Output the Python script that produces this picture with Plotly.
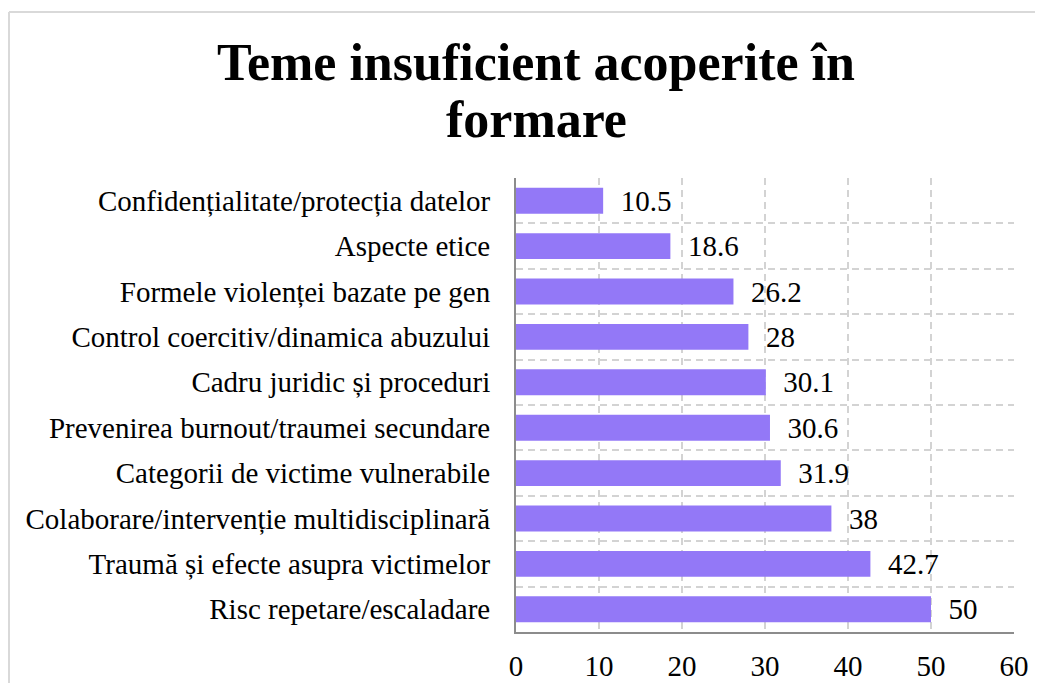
import plotly.graph_objects as go

BAR = "#9378F7"
GRID = "#d3d3d3"
AXIS = "#8c8c8c"
FONT = "Liberation Serif"

teme = [
    "Confidențialitate/protecția datelor",
    "Aspecte etice",
    "Formele violenței bazate pe gen",
    "Control coercitiv/dinamica abuzului",
    "Cadru juridic și proceduri",
    "Prevenirea burnout/traumei secundare",
    "Categorii de victime vulnerabile",
    "Colaborare/intervenție multidisciplinară",
    "Traumă și efecte asupra victimelor",
    "Risc repetare/escaladare",
]
procente = [10.5, 18.6, 26.2, 28, 30.1, 30.6, 31.9, 38, 42.7, 50]
pozitii = list(range(len(teme)))
x_ticks = [0, 10, 20, 30, 40, 50, 60]
titlu = ["Teme insuficient acoperite în", "formare"]

# pixel -> paper helpers (plot area 516..1014 x, 178..632 y on the page)
def px_x(p):
    return (p - 516) / 498

def px_y(p):
    return (632 - p) / 454

fig = go.Figure(go.Bar(
    x=procente, y=pozitii, orientation="h",
    marker=dict(color=BAR, line=dict(width=0)),
    text=[f"{v:g}" for v in procente],
    texttemplate="\u00a0\u00a0%{text}",
    textposition="outside", cliponaxis=False, constraintext="none",
    textfont=dict(family=FONT, size=29, color="black"),
))

fig.update_layout(
    width=1035, height=675,
    paper_bgcolor="white", plot_bgcolor="white",
    margin=dict(l=508, r=29, t=170, b=51, autoexpand=False),
    bargap=0.43, showlegend=False,
    font=dict(family=FONT, size=29, color="black"),
    xaxis=dict(range=[0, 60], tickvals=x_ticks, showgrid=True,
               gridcolor=GRID, griddash="7px,5px", gridwidth=2,
               showline=True, linecolor=AXIS, linewidth=2,
               ticks="", ticklabelstandoff=7, zeroline=False,
               automargin=False, tickfont=dict(family=FONT, size=29)),
    yaxis=dict(range=[9.5, -0.5], tickvals=pozitii, ticktext=teme,
               showgrid=False, showline=True, linecolor=AXIS, linewidth=2,
               ticks="", ticklabelstandoff=18, zeroline=False,
               automargin=False, tickfont=dict(family=FONT, size=29),
               minor=dict(tickvals=[p + 0.5 for p in pozitii[:-1]] + [-0.5],
                          showgrid=True, gridcolor=GRID, griddash="7px,5px",
                          gridwidth=2, ticks="")),
    shapes=[
        dict(type="line", xref="paper", yref="paper",
             x0=px_x(9), x1=px_x(9), y0=px_y(700), y1=px_y(12),
             line=dict(color="#d9d9d9", width=2), layer="below"),
        dict(type="line", xref="paper", yref="paper",
             x0=px_x(9), x1=px_x(1050), y0=px_y(12), y1=px_y(12),
             line=dict(color="#d9d9d9", width=2), layer="below"),
    ],
    annotations=[
        dict(text=f"<b>{titlu[0]}</b>", xref="paper", yref="paper",
             x=px_x(536), y=px_y(63), xanchor="center",
             yanchor="middle", showarrow=False,
             font=dict(family=FONT, size=52, color="black")),
        dict(text=f"<b>{titlu[1]}</b>", xref="paper", yref="paper",
             x=px_x(536), y=px_y(120), xanchor="center",
             yanchor="middle", showarrow=False,
             font=dict(family=FONT, size=52, color="black")),
    ],
)

fig.write_html("out.html")
